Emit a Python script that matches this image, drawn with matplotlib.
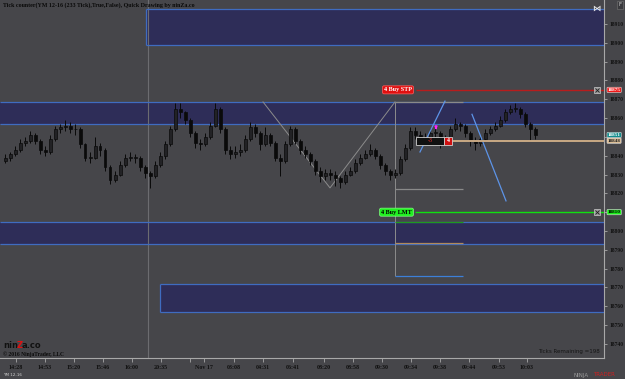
import numpy as np
import matplotlib.pyplot as plt
from matplotlib.patches import Rectangle
import matplotlib.transforms as mtransforms

# YM 12-16, 233 tick bars (x = bar number)
first_open = 18837
closes = [18839, 18841, 18843, 18847, 18848, 18851, 18848, 18843, 18842, 18849,
          18854, 18855, 18856, 18854, 18854, 18846, 18839, 18839, 18845, 18843,
          18834, 18827, 18830, 18835, 18839, 18839, 18839, 18834, 18831, 18829,
          18835, 18840, 18846, 18854, 18865, 18863, 18859, 18852, 18847, 18846,
          18850, 18856, 18865, 18854, 18843, 18841, 18842, 18843, 18849, 18855,
          18852, 18846, 18851, 18847, 18839, 18837, 18846, 18854, 18848, 18843,
          18841, 18837, 18832, 18829, 18831, 18830, 18828, 18826, 18830, 18832,
          18836, 18839, 18841, 18843, 18840, 18835, 18832, 18830, 18831, 18838,
          18844, 18853, 18851, 18848, 18849, 18852, 18852, 18848, 18848, 18854,
          18857, 18856, 18852, 18848, 18847, 18849, 18852, 18854, 18856, 18859,
          18863, 18865, 18865, 18862, 18857, 18854, 18851]
highs = [18841, 18842, 18845, 18849, 18850, 18853, 18852, 18849, 18845, 18851,
         18856, 18857, 18859, 18858, 18857, 18855, 18847, 18842, 18850, 18847,
         18844, 18835, 18832, 18837, 18841, 18842, 18841, 18840, 18835, 18832,
         18837, 18842, 18848, 18856, 18868, 18868, 18864, 18860, 18853, 18849,
         18852, 18858, 18868, 18866, 18855, 18845, 18845, 18846, 18851, 18858,
         18857, 18853, 18855, 18852, 18848, 18841, 18848, 18856, 18855, 18849,
         18845, 18842, 18838, 18834, 18833, 18833, 18832, 18829, 18832, 18834,
         18838, 18841, 18843, 18846, 18844, 18841, 18836, 18833, 18833, 18840,
         18846, 18855, 18855, 18853, 18852, 18854, 18855, 18853, 18851, 18856,
         18860, 18858, 18857, 18853, 18850, 18851, 18854, 18856, 18858, 18861,
         18865, 18867, 18868, 18866, 18863, 18858, 18855]
lows = [18836, 18837, 18840, 18842, 18845, 18847, 18846, 18841, 18840, 18841,
        18848, 18852, 18853, 18852, 18851, 18844, 18837, 18836, 18838, 18840,
        18832, 18825, 18826, 18829, 18834, 18837, 18836, 18832, 18828, 18823,
        18828, 18834, 18838, 18845, 18853, 18860, 18857, 18850, 18844, 18843,
        18845, 18849, 18855, 18852, 18841, 18838, 18839, 18840, 18842, 18848,
        18850, 18843, 18845, 18845, 18837, 18829, 18836, 18845, 18846, 18841,
        18839, 18835, 18830, 18826, 18827, 18827, 18824, 18823, 18825, 18829,
        18831, 18835, 18838, 18840, 18838, 18833, 18830, 18827, 18828, 18830,
        18837, 18843, 18849, 18846, 18846, 18848, 18850, 18844, 18846, 18847,
        18853, 18853, 18850, 18845, 18843, 18845, 18848, 18851, 18853, 18855,
        18858, 18862, 18863, 18860, 18855, 18848, 18849]

# supply / demand zones: (start bar, low, high)
zones = [(28.2, 18898.8, 18917.8), (-1, 18856.7, 18868.7),
         (-1, 18792.9, 18805.0), (31.0, 18757.1, 18771.9)]

# drawings
v_bars = [51.6, 65.0, 78.0]
v_prices = [18868.6, 18822.9, 18868.6]
blue_lines = [((83.0, 18842), (88.0, 18869)), ((93.4, 18862), (100.2, 18816))]
proj_start, proj_end = 78.0, 91.6
proj_levels = [18868.6, 18822.3, 18804.8, 18793.6, 18776.1]
proj_colors = ['#8a8a8a', '#8a8a8a', '#1f9a1f', '#b08a5a', '#3d7fd8']
session_break = 28.6

buy_stp, buy_lmt, position, last_price = 18875, 18810, 18848, 18851

tick_pos = [2.2, 8, 13.8, 19.6, 25.4, 31.2, 37, 39.8, 45.8, 51.6, 57.6, 63.8,
            69.6, 75.4, 81.2, 87, 92.8, 98.8, 104.4]
tick_lbl = ['14:28', '14:53', '15:20', '15:46', '16:00', '20:35', '', 'Nov 17',
            '03:08', '04:31', '06:41', '08:20', '08:58', '09:30', '09:34',
            '09:38', '09:44', '09:53', '10:03']
price_ticks = list(range(18740, 18911, 10))
hidden_ticks = [18850, 18810]   # covered by the price markers

bg = '#46464a'
W, H = 625, 379
fig = plt.figure(figsize=(6.25, 3.79), dpi=100, facecolor=bg)
ax = fig.add_axes([0, 21 / H, 604 / W, 358 / H], facecolor=bg)
xmin, xmax = -1, 119.8
ax.set_xlim(xmin, xmax)
ax.set_ylim(18732.5, 18922.75)

serif = 'Liberation Serif'

# zones
for x0, lo, hi in zones:
    ax.add_patch(Rectangle((x0, lo), xmax - x0, hi - lo, facecolor='#2e2d58',
                           edgecolor='none', zorder=1))
    ax.hlines([lo, hi], x0, xmax, color='#3f6cc0', lw=0.9, zorder=1.5)
    if x0 > xmin:
        ax.vlines(x0, lo, hi, color='#3f6cc0', lw=0.9, zorder=1.5)

ax.axvline(session_break, color='#6c6c70', lw=0.8, zorder=1.2)

# candles
opens = [first_open] + closes[:-1]
x = np.arange(len(closes))
o = np.array(opens)
c = np.array(closes)
ax.vlines(x, lows, highs, color='#0a0a0a', lw=0.7, zorder=3)
up = c >= o
body = np.maximum(np.abs(c - o), 0.4)
ax.bar(x[up], body[up], bottom=np.minimum(o, c)[up], width=0.6,
       color='#222225', edgecolor='#0a0a0a', lw=0.5, zorder=3.2)
ax.bar(x[~up], body[~up], bottom=np.minimum(o, c)[~up], width=0.6,
       color='#0a0a0a', edgecolor='#0a0a0a', lw=0.5, zorder=3.2)

# gray V drawing and projection lines
ax.plot(v_bars, v_prices, color='#8c8c8c', lw=0.7, zorder=2)
ax.vlines(proj_start, proj_levels[-1], proj_levels[0], color='#8c8c8c', lw=0.7, zorder=2)
for lvl, col in zip(proj_levels, proj_colors):
    ax.hlines(lvl, proj_start, proj_end, color=col, lw=0.9, zorder=2.1)

for (xa, ya), (xb, yb) in blue_lines:
    ax.plot([xa, xb], [ya, yb], color='#5d94e8', lw=0.9, zorder=4)

# orders and position
ax.hlines(buy_stp, 82.2, xmax, color='#b81c1c', lw=1.0, zorder=4)
ax.hlines(buy_lmt, 82.0, xmax, color='#10e010', lw=1.0, zorder=4)
ax.hlines(position, 89.4, xmax, color='#c9a984', lw=1.4, zorder=4)
ax.text(78.6, buy_stp, '4 Buy STP', fontsize=4.4, family=serif, weight='bold',
        color='white', ha='center', va='center', zorder=6,
        bbox=dict(boxstyle='round,pad=0.25', fc='#e01010', ec='#ff6060', lw=0.5))
ax.text(78.3, buy_lmt, '4 Buy LMT', fontsize=4.4, family=serif, weight='bold',
        color='black', ha='center', va='center', zorder=6,
        bbox=dict(boxstyle='round,pad=0.25', fc='#20f020', ec='#80ff80', lw=0.5))
for lvl in (buy_stp, buy_lmt):
    ax.plot(118.4, lvl, marker='s', ms=4, mfc='#9a9a9a', mec='#dddddd', mew=0.4, zorder=6)
    ax.plot(118.4, lvl, marker='x', ms=2.5, mec='#202020', mew=0.6, zorder=7)

# pnl box
ax.add_patch(Rectangle((82.2, 18845.7), 5.6, 4.3, fc='#111111', ec='#cfcfcf', lw=0.6, zorder=6))
ax.add_patch(Rectangle((87.8, 18845.7), 1.6, 4.3, fc='#d01010', ec='#cfcfcf', lw=0.6, zorder=6))
ax.text(85.0, 18847.85, '-3', color='#ff3030', fontsize=4.2, family=serif,
        ha='center', va='center', zorder=7)
ax.text(88.6, 18847.85, '4', color='white', fontsize=4.2, family=serif, weight='bold',
        ha='center', va='center', zorder=7)
ax.annotate('', xy=(86.2, 18852.4), xytext=(86.2, 18856.2), zorder=7,
            arrowprops=dict(arrowstyle='-|>', color='#ff22ff', lw=1.2, mutation_scale=3))

# axes styling
for s in ('top', 'left'):
    ax.spines[s].set_visible(False)
for s in ('right', 'bottom'):
    ax.spines[s].set_color('#a8a8a8')
    ax.spines[s].set_linewidth(0.8)
ax.yaxis.tick_right()
ax.set_yticks(price_ticks)
ax.set_yticklabels(['' if v in hidden_ticks else str(v) for v in price_ticks],
                   fontsize=4.0, family=serif, weight='bold', color='#101010')
ax.tick_params(axis='y', length=2, width=0.6, color='#a8a8a8', pad=2)
ax.set_xticks(tick_pos)
ax.set_xticklabels(tick_lbl, fontsize=4.3, family=serif, weight='bold', color='#101010')
ax.tick_params(axis='x', length=3, width=0.6, color='#a8a8a8', pad=2)

# right side price markers
tr = mtransforms.blended_transform_factory(ax.transAxes, ax.transData)
markers = [(buy_stp, '#f01818', 'white'), (last_price, '#118c8c', 'white'),
           (position, '#dcbf98', '#202020'), (buy_lmt, '#18f018', 'black')]
for val, fc, tc in markers:
    ax.text(1.006, val, str(val), transform=tr, fontsize=3.8, family=serif,
            weight='bold', color=tc, ha='left', va='center', zorder=8, clip_on=False,
            bbox=dict(boxstyle='round,pad=0.12', fc=fc, ec='#e0e0e0', lw=0.4))


def px(xp, yp):
    return xp / W, 1 - yp / H


fig.text(*px(3, 5), 'Tick counter(YM 12-16 (233 Tick),True,False), Quick Drawing by ninZa.co',
         fontsize=4.3, family=serif, weight='bold', color='#0a0a0a', va='center')
fig.text(*px(620, 5), 'F', fontsize=4, color='#cccccc', ha='center', va='center',
         bbox=dict(boxstyle='square,pad=0.2', fc='#3a3a3e', ec='#777777', lw=0.4))
fig.text(*px(596, 8), '\u22c8', fontsize=6, color='#e8e8e8', ha='center', va='center', weight='bold')
fig.text(*px(600, 352), 'Ticks Remaining =198', fontsize=4, color='#151515',
         ha='right', va='center')
fig.text(*px(3, 346), 'nin', fontsize=6, color='#111111', weight='bold', va='center')
fig.text(*px(16.5, 346), 'Z', fontsize=6, color='#e01010', weight='bold', va='center')
fig.text(*px(22, 346), 'a.co', fontsize=6, color='#111111', weight='bold', va='center')
fig.text(*px(3, 354), '\u00a9 2016 NinjaTrader, LLC', fontsize=4, family=serif,
         weight='bold', color='#0a0a0a', va='center')
fig.text(*px(3, 375), 'YM 12-16', fontsize=3, color='#cfcfcf', va='center')
fig.text(*px(573, 375), 'NINJA', fontsize=4, color='#9a9a9a', va='center')
fig.text(*px(593, 375), 'TRADER', fontsize=4, color='#d02020', va='center')

fig.savefig('out.png', dpi=100, facecolor=bg)
